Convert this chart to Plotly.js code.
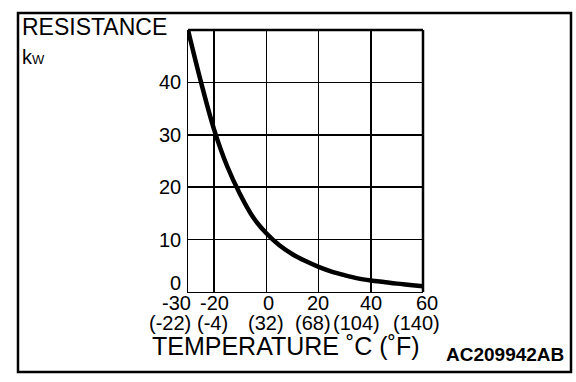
<!DOCTYPE html>
<html>
<head>
<meta charset="utf-8">
<script src="https://cdn.plot.ly/plotly-3.0.1.min.js"></script>
<style>html,body{margin:0;padding:0;background:#fff;}#chart{width:576px;height:382px;}</style>
</head>
<body>
<div id="chart"></div>
<script>
// ---- data ----
const temperatureC = [-30, -25, -20, -15, -10, -5, 0, 5, 10, 15, 20, 25, 30, 35, 40, 45, 50, 55, 60];
const resistanceK = [50, 40, 31, 24, 18.6, 14.2, 11.2, 8.9, 7.2, 5.9, 4.8, 3.9, 3.2, 2.6, 2.2, 1.9, 1.6, 1.35, 1.1];
const xTickC = [-30, -20, 0, 20, 40, 60];
const xTickCText = ['-30', '-20', '0', '20', '40', '60'];
const xTickFText = ['(-22)', '(-4)', '(32)', '(68)', '(104)', '(140)'];
const yTicks = [0, 10, 20, 30, 40];
const yTickText = ['0', '10', '20', '30', '40'];

// ---- layout helpers (pixel -> paper) ----
const L = 188, R = 423, T = 30, B = 292;
const fx = p => (p - L) / (R - L);
const fy = p => (B - p) / (B - T);
const FONT = 'Liberation Sans, Arial, Helvetica, sans-serif';
const shiftC = [-12, 0, 2, -1, 0, 4];
const shiftF = [-18, -2, 0, -6, -14, -7];

const annotations = [];
xTickC.forEach((v, i) => {
  annotations.push({xref: 'x', yref: 'paper', x: v, y: fy(303), text: xTickCText[i], showarrow: false,
    xanchor: 'center', yanchor: 'middle', xshift: shiftC[i], borderpad: 0, font: {family: FONT, size: 20, color: '#000'}});
  annotations.push({xref: 'x', yref: 'paper', x: v, y: fy(323), text: xTickFText[i], showarrow: false,
    xanchor: 'center', yanchor: 'middle', xshift: shiftF[i], borderpad: 0, font: {family: FONT, size: 20, color: '#000'}});
});
yTicks.forEach((v, i) => {
  annotations.push({xref: 'paper', yref: 'y', x: fx(182), y: v, text: yTickText[i], showarrow: false,
    xanchor: 'right', yanchor: 'middle', yshift: v === 0 ? 9 : 0, borderpad: 0, font: {family: FONT, size: 20, color: '#000'}});
});
annotations.push({xref: 'paper', yref: 'paper', x: fx(20), y: fy(27), text: 'RESISTANCE', showarrow: false,
  xanchor: 'left', yanchor: 'middle', font: {family: FONT, size: 23, color: '#000'}});
annotations.push({xref: 'paper', yref: 'paper', x: fx(20), y: fy(57), text: 'k<span style="font-size:13px">W</span>', showarrow: false,
  xanchor: 'left', yanchor: 'middle', font: {family: FONT, size: 20, color: '#000'}});
annotations.push({xref: 'paper', yref: 'paper', x: fx(150), y: fy(346), text: 'TEMPERATURE \u02DAC (\u02DAF)', showarrow: false,
  xanchor: 'left', yanchor: 'middle', font: {family: FONT, size: 25, color: '#000'}});
annotations.push({xref: 'paper', yref: 'paper', x: fx(566), y: fy(354), text: '<b>AC209942AB</b>', showarrow: false,
  xanchor: 'right', yanchor: 'middle', font: {family: FONT, size: 19, color: '#000'}});

const trace = {
  x: temperatureC, y: resistanceK, type: 'scatter', mode: 'lines',
  line: {color: '#000', width: 4.5, shape: 'spline', smoothing: 1},
  hoverinfo: 'skip', cliponaxis: true
};

const layout = {
  width: 576, height: 382,
  margin: {l: L, r: 576 - R, t: T, b: 382 - B, pad: 0},
  paper_bgcolor: '#fff', plot_bgcolor: '#fff',
  showlegend: false,
  xaxis: {
    range: [-30, 60], tickmode: 'array', tickvals: [-20, 40], showticklabels: false, ticks: '',
    showgrid: true, gridcolor: '#000', gridwidth: 2, zeroline: false,
    showline: true, linecolor: '#000', linewidth: 1, fixedrange: true,
    minor: {tickmode: 'array', tickvals: [0, 20], showgrid: true, gridcolor: '#000', gridwidth: 1, ticks: ''}
  },
  yaxis: {
    range: [0, 50], tickmode: 'array', tickvals: [20, 30], showticklabels: false, ticks: '',
    showgrid: true, gridcolor: '#000', gridwidth: 2, zeroline: false,
    showline: true, linecolor: '#000', linewidth: 1, fixedrange: true,
    minor: {tickmode: 'array', tickvals: [10, 40], showgrid: true, gridcolor: '#000', gridwidth: 1, ticks: ''}
  },
  shapes: [
    {type: 'line', xref: 'paper', yref: 'paper', x0: 0, x1: 1, y0: 1, y1: 1, line: {color: '#000', width: 2.5}},
    {type: 'line', xref: 'paper', yref: 'paper', x0: 1, x1: 1, y0: 0, y1: 1, line: {color: '#000', width: 2.5}},
    {type: 'rect', xref: 'paper', yref: 'paper', x0: fx(18), x1: fx(571), y0: fy(372), y1: fy(13),
      line: {color: '#000', width: 2.5}, fillcolor: 'rgba(0,0,0,0)'}
  ],
  annotations: annotations
};

Plotly.newPlot('chart', [trace], layout, {staticPlot: true, displayModeBar: false});
</script>
</body>
</html>
